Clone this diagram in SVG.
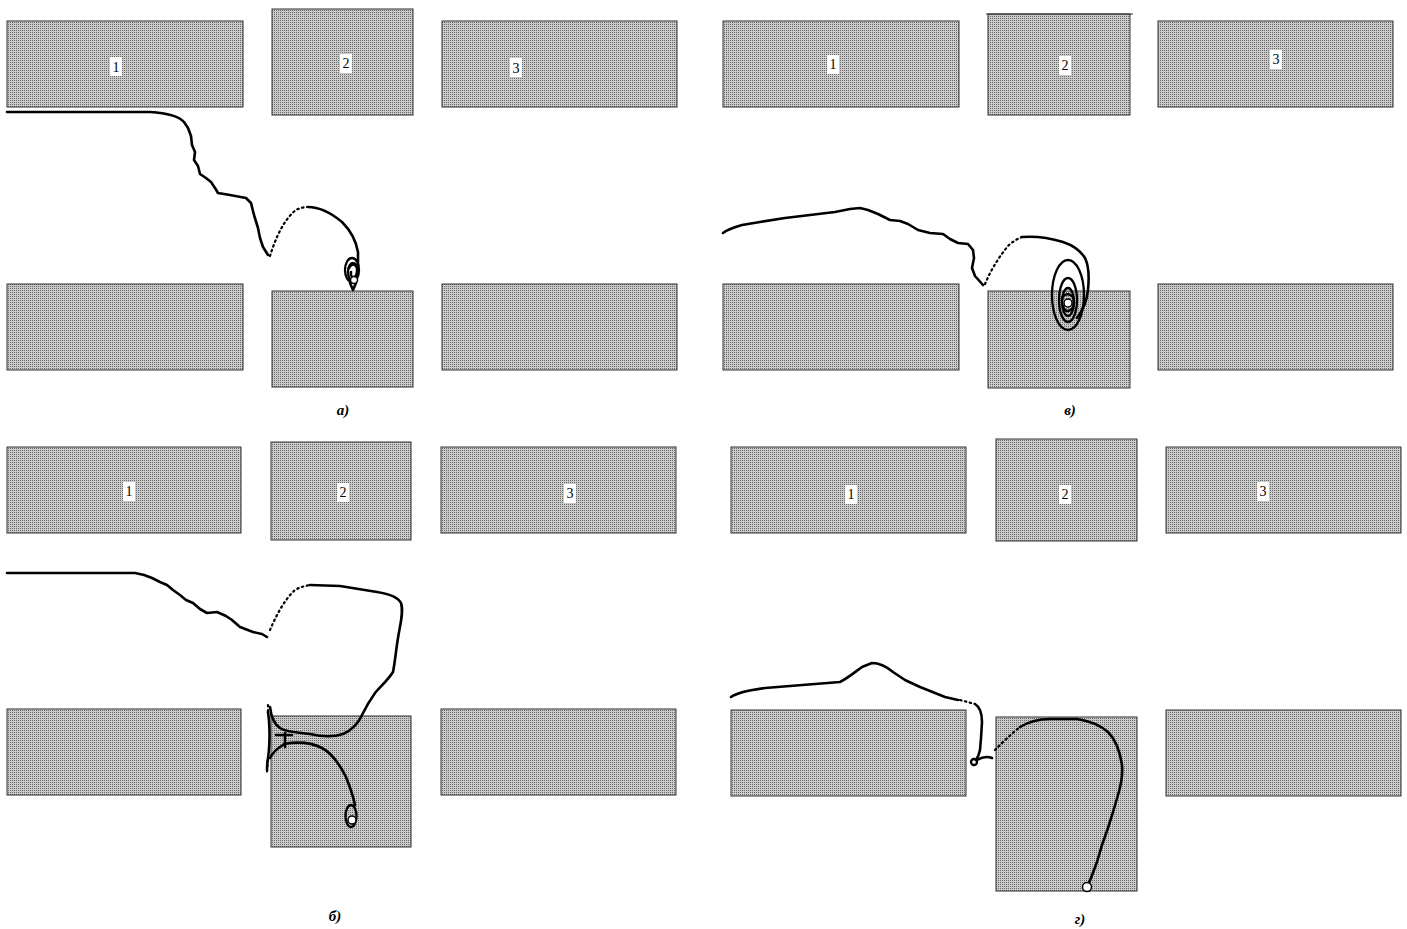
<svg xmlns="http://www.w3.org/2000/svg" width="1407" height="929" viewBox="0 0 1407 929">
<defs>
<pattern id="dots" patternUnits="userSpaceOnUse" width="2" height="2">
<rect width="2" height="2" fill="#cacaca"/>
<rect width="1" height="1" fill="#6a6a6a"/>
</pattern>
</defs>
<style>
.blk{fill:url(#dots);stroke:#333;stroke-width:1}
.lb{fill:#fff}
.num{font-family:"Liberation Serif",serif;font-size:14px;fill:#000;text-anchor:middle}
.cap{font-family:"Liberation Serif",serif;font-size:15px;font-style:italic;font-weight:bold;fill:#000;text-anchor:middle}
.tr{fill:none;stroke:#000;stroke-width:2.6;stroke-linecap:round;stroke-linejoin:round}
.dt{fill:none;stroke:#000;stroke-width:2.2;stroke-dasharray:1.5 3.5;stroke-linecap:round}
.ring{fill:none;stroke:#000;stroke-width:2.3}
.end{fill:#fff;stroke:#000;stroke-width:1.5}
</style>

<!-- Panel a -->
<g id="a-b1"><rect class="blk" x="7" y="21" width="236" height="86"/><rect class="lb" x="110" y="57" width="12" height="19"/><text class="num" x="116" y="72">1</text></g>
<g id="a-b2"><rect class="blk" x="272" y="9" width="141" height="106"/><rect class="lb" x="340" y="54" width="12" height="19"/><text class="num" x="346" y="68">2</text></g>
<g id="a-b3"><rect class="blk" x="442" y="21" width="235" height="86"/><rect class="lb" x="510" y="58" width="12" height="19"/><text class="num" x="516" y="73">3</text></g>
<g id="a-b4"><rect class="blk" x="7" y="284" width="236" height="86"/></g>
<g id="a-b5"><rect class="blk" x="272" y="291" width="141" height="96"/></g>
<g id="a-b6"><rect class="blk" x="442" y="284" width="235" height="86"/></g>
<g id="a-cap"><text class="cap" x="343" y="415">а)</text></g>

<!-- Panel v -->
<g id="v-b1"><rect class="blk" x="723" y="21" width="236" height="86"/><rect class="lb" x="827" y="55" width="12" height="19"/><text class="num" x="833" y="69">1</text></g>
<g id="v-b2"><rect class="blk" x="988" y="14" width="142" height="101"/><line x1="986" y1="14" x2="1133" y2="14" stroke="#333" stroke-width="1"/><rect class="lb" x="1059" y="56" width="12" height="19"/><text class="num" x="1065" y="70">2</text></g>
<g id="v-b3"><rect class="blk" x="1158" y="21" width="235" height="86"/><rect class="lb" x="1270" y="50" width="12" height="19"/><text class="num" x="1276" y="64">3</text></g>
<g id="v-b4"><rect class="blk" x="723" y="284" width="236" height="86"/></g>
<g id="v-b5"><rect class="blk" x="988" y="291" width="142" height="97"/></g>
<g id="v-b6"><rect class="blk" x="1158" y="284" width="235" height="86"/></g>
<g id="v-cap"><text class="cap" x="1070" y="415">в)</text></g>

<!-- Panel b -->
<g id="b-b1"><rect class="blk" x="7" y="447" width="234" height="86"/><rect class="lb" x="123" y="482" width="12" height="19"/><text class="num" x="129" y="496">1</text></g>
<g id="b-b2"><rect class="blk" x="271" y="442" width="140" height="98"/><rect class="lb" x="337" y="483" width="12" height="19"/><text class="num" x="343" y="497">2</text></g>
<g id="b-b3"><rect class="blk" x="441" y="447" width="235" height="86"/><rect class="lb" x="564" y="484" width="12" height="19"/><text class="num" x="570" y="498">3</text></g>
<g id="b-b4"><rect class="blk" x="7" y="709" width="234" height="86"/></g>
<g id="b-b5"><rect class="blk" x="271" y="716" width="140" height="131"/></g>
<g id="b-b6"><rect class="blk" x="441" y="709" width="235" height="86"/></g>
<g id="b-cap"><text class="cap" x="335" y="921">б)</text></g>

<!-- Panel g -->
<g id="g-b1"><rect class="blk" x="731" y="447" width="235" height="86"/><rect class="lb" x="845" y="485" width="12" height="19"/><text class="num" x="851" y="499">1</text></g>
<g id="g-b2"><rect class="blk" x="996" y="439" width="141" height="102"/><rect class="lb" x="1059" y="485" width="12" height="19"/><text class="num" x="1065" y="499">2</text></g>
<g id="g-b3"><rect class="blk" x="1166" y="447" width="235" height="86"/><rect class="lb" x="1257" y="482" width="12" height="19"/><text class="num" x="1263" y="496">3</text></g>
<g id="g-b4"><rect class="blk" x="731" y="710" width="235" height="86"/></g>
<g id="g-b5"><rect class="blk" x="996" y="717" width="141" height="174"/></g>
<g id="g-b6"><rect class="blk" x="1166" y="710" width="235" height="86"/></g>
<g id="g-cap"><text class="cap" x="1080" y="924">г)</text></g>

<g id="connectors">
<!-- a -->
<path class="tr" d="M7,112 L150,112 C165,113 178,115 184,122 L188,128 L191,136 L192,145 L195,152 L194,160 L198,166 L200,174 L206,178 L211,182 L215,188 L218,193 L230,195 L246,198 L251,203 L254,215 L258,228 L260,238 L263,247 L268,255"/>
<path class="dt" d="M270,256 C275,240 283,220 296,210 C300,208 304,207 308,207"/>
<path class="tr" d="M308,207 C320,207 330,212 342,222 C350,230 356,240 358,252 L358,270"/>
<ellipse class="ring" cx="352" cy="270" rx="7" ry="12"/>
<ellipse class="ring" cx="353" cy="272" rx="5" ry="9"/>
<path class="tr" d="M349,268 C352,262 358,264 357,272 C356,280 350,278 351,272"/>
<path class="tr" d="M350,283 L353,290 L356,283"/>
<circle class="end" cx="354" cy="280" r="3.5"/>

<!-- v -->
<path class="tr" d="M723,233 C728,229 735,227 742,225 L760,222 L785,218 L810,215 L835,212 L850,209 L860,208 L868,210 L878,214 L890,220 L900,221 L908,224 L918,230 L930,233 L943,234 L950,239 L958,243 L968,244 L973,250 L974,258 L972,268 L975,276 L983,285"/>
<path class="dt" d="M985,284 C990,272 998,258 1008,246 C1012,242 1017,239 1022,237"/>
<path class="tr" d="M1022,237 C1035,236 1050,238 1063,242 C1072,245 1080,250 1085,258 C1089,266 1089,280 1088,290 C1087,300 1083,310 1077,318"/>
<ellipse class="ring" cx="1068" cy="295" rx="16" ry="35"/>
<ellipse class="ring" cx="1068" cy="300" rx="9" ry="22"/>
<ellipse class="ring" cx="1068" cy="302" rx="6" ry="14"/>
<path class="tr" d="M1062,300 C1062,292 1074,292 1074,302 C1074,312 1064,314 1063,306"/>
<circle class="end" cx="1068" cy="303" r="4"/>

<!-- b -->
<path class="tr" d="M7,573 L135,573 C142,574 148,576 152,578 L160,582 L167,585 L173,590 L180,595 L186,600 L193,603 L200,609 L207,613 L217,612 L226,616 L232,620 L240,627 L253,632 L262,634 L267,637"/>
<path class="dt" d="M270,630 C276,616 284,600 295,590 C300,587 305,586 310,585"/>
<path class="tr" d="M310,585 L340,586 L377,592 C390,594 398,597 401,603 C404,612 400,625 398,638 C396,650 395,662 393,672 C388,680 381,686 375,693 C370,700 366,707 362,715 C358,724 352,730 343,734 C334,737 323,737 310,734 C298,732 288,733 280,728 C274,724 271,716 270,707"/>
<path class="dt" d="M268,705 L268,715 M268,760 L267,772"/>
<path class="tr" d="M268,712 C270,725 270,745 268,758 C267,764 267,766 267,770"/>
<path class="tr" d="M276,735 L292,735 M285,733 L285,747"/>
<path class="tr" d="M284,744 C295,742 310,742 322,748 C333,754 340,765 346,777 C350,787 353,795 355,805"/>
<path class="tr" d="M283,745 C278,748 273,752 270,758"/>
<ellipse class="ring" cx="351" cy="816" rx="5.5" ry="11"/>
<circle class="end" cx="352" cy="820" r="4"/>

<!-- g -->
<path class="tr" d="M731,697 C738,692 750,690 765,688 L790,686 L815,684 L840,682 C848,678 855,672 862,667 L872,663 C880,663 887,667 893,672 L905,680 L920,687 L935,693 L945,697 L958,700"/>
<path class="dt" d="M960,700 L975,704"/>
<path class="tr" d="M975,704 C980,707 982,712 982,722 L981,738 L980,750 C979,755 978,757 976,760"/>
<circle class="ring" cx="974" cy="762" r="3"/>
<path class="tr" d="M977,760 C982,757 987,756 992,758"/>
<path class="dt" d="M995,750 C1002,743 1010,735 1020,727"/>
<path class="tr" d="M1020,727 C1030,721 1040,719 1050,719 L1077,719 C1090,721 1100,725 1108,732 C1116,740 1120,752 1122,765 C1123,775 1121,785 1118,795 L1113,812 L1108,828 L1102,845 L1097,862 L1091,878 L1088,885"/>
<circle class="end" cx="1087" cy="887" r="4.5"/>
</g>
</svg>
